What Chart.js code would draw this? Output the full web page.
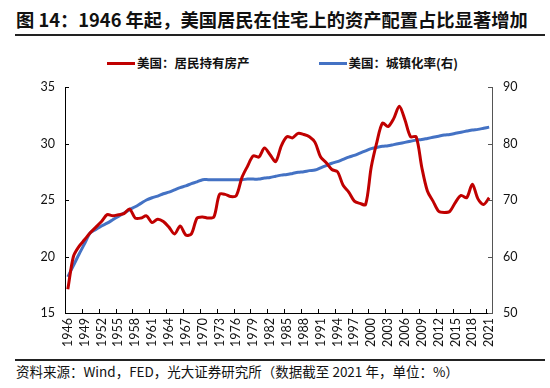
<!DOCTYPE html>
<html>
<head>
<meta charset="utf-8">
<script src="https://cdn.jsdelivr.net/npm/chart.js@4"></script>
<style>
  body { margin: 0; width: 550px; height: 388px; background: #fff; position: relative; overflow: hidden;
         font-family: "Noto Sans CJK SC", "Noto Sans", sans-serif; color: #111; }
  #title { position: absolute; left: 16px; top: 6px; font-size: 18.3px; font-weight: bold; line-height: 26px; white-space: nowrap; }
  .rule { position: absolute; left: 15px; width: 530px; height: 1.5px; background: #222; }
  #legend { position: absolute; left: 107px; top: 53px; display: flex; gap: 69px; font-size: 12.5px; font-weight: bold; line-height: 20px; }
  #legend .item { display: flex; align-items: center; white-space: nowrap; }
  #legend .swatch { width: 28px; height: 3px; margin-right: 2px; }
  #wrap { position: absolute; left: 0; top: 40px; width: 550px; height: 315px; }
  #source { position: absolute; left: 16px; top: 361px; font-size: 13.5px; line-height: 20px; white-space: nowrap; }
</style>
</head>
<body>
<div id="title">图 14：1946 年起，美国居民在住宅上的资产配置占比显著增加</div>
<div class="rule" style="top:34px"></div>
<div id="legend"></div>
<div id="wrap"><canvas id="chart"></canvas></div>
<div class="rule" style="top:359px"></div>
<div id="source">资料来源：Wind，FED，光大证券研究所（数据截至 2021 年，单位：%）</div>
<script>
const years = [];
for (let y = 1946; y <= 2021; y++) years.push(String(y));

// 美国：居民持有房产 (left axis, %)
const housing = [
  17.1, 20.0, 20.9, 21.5, 22.1, 22.6, 23.1, 23.7, 23.6, 23.7,
  23.8, 24.2, 23.4, 23.4, 23.6, 23.0, 23.3, 23.1, 22.6, 22.0,
  22.7, 21.9, 22.0, 23.4, 23.5, 23.4, 23.5, 25.5, 25.5, 25.3,
  25.4, 27.0, 28.0, 28.9, 28.8, 29.6, 29.0, 28.4, 29.8, 30.6,
  30.5, 30.9, 30.8, 30.6, 30.1, 28.8, 28.3, 27.7, 27.5, 26.3,
  25.7, 24.9, 24.7, 24.6, 27.9, 30.1, 31.8, 31.5, 32.2, 33.3,
  32.1, 30.6, 30.6, 27.9, 25.8, 24.9, 24.0, 23.9, 24.0, 24.8,
  25.4, 25.2, 26.4, 25.1, 24.6, 25.2
];

// 美国：城镇化率 (right axis, %)
const urban = [
  56.4, 58.4, 60.4, 62.3, 64.2, 64.8, 65.4, 65.9, 66.5, 67.1,
  67.7, 68.3, 68.8, 69.4, 70.0, 70.4, 70.7, 71.1, 71.4, 71.8,
  72.2, 72.5, 72.9, 73.2, 73.6, 73.6, 73.6, 73.6, 73.6, 73.6,
  73.6, 73.6, 73.7, 73.7, 73.7, 73.9, 74.0, 74.2, 74.4, 74.5,
  74.7, 74.9, 75.0, 75.2, 75.3, 75.7, 76.1, 76.5, 76.8, 77.2,
  77.6, 77.9, 78.3, 78.7, 79.1, 79.3, 79.5, 79.6, 79.8, 80.0,
  80.2, 80.4, 80.6, 80.7, 80.9, 81.1, 81.3, 81.5, 81.6, 81.8,
  82.0, 82.2, 82.4, 82.5, 82.7, 82.9
];

const seriesNames = ['美国：居民持有房产', '美国：城镇化率(右)'];
const seriesColors = ['#C00000', '#4472C4'];

// tick marks pointing into the plot, like the original
const inwardTicks = {
  id: 'inwardTicks',
  afterDraw(chart) {
    const {ctx, scales: {x, y, y1}} = chart;
    const len = 4;
    ctx.save();
    ctx.lineWidth = 1;
    const seg = (a, b, c, d, col) => {
      ctx.strokeStyle = col;
      ctx.beginPath(); ctx.moveTo(a, b); ctx.lineTo(c, d); ctx.stroke();
    };
    const step = x.getPixelForValue(1) - x.getPixelForValue(0);
    years.forEach((yr, i) => {
      if (i % 3) return;
      const px = Math.round(x.getPixelForValue(i) - step / 2) + 0.5;
      seg(px, x.top, px, x.top - len, '#000');
    });
    y.ticks.forEach(t => {
      const py = Math.round(y.getPixelForValue(t.value)) + 0.5;
      seg(y.right, py, y.right + len, py, '#000');
    });
    y1.ticks.forEach(t => {
      const py = Math.round(y1.getPixelForValue(t.value)) + 0.5;
      seg(y1.left, py, y1.left - len, py, '#555');
    });
    ctx.restore();
  }
};

const tickFont = {family: 'Lato, "Noto Sans", sans-serif', size: 12.5};

const chart = new Chart(document.getElementById('chart'), {
  type: 'line',
  data: {
    labels: years,
    datasets: [
      {label: seriesNames[0], data: housing, yAxisID: 'y', borderColor: seriesColors[0],
       backgroundColor: seriesColors[0], borderWidth: 3, pointRadius: 0, tension: 0.3},
      {label: seriesNames[1], data: urban, yAxisID: 'y1', borderColor: seriesColors[1],
       backgroundColor: seriesColors[1], borderWidth: 3, pointRadius: 0, tension: 0.3}
    ]
  },
  options: {
    responsive: true,
    maintainAspectRatio: false,
    animation: false,
    layout: {padding: {top: 47, bottom: 0, left: 0, right: 0}},
    plugins: {legend: {display: false}, tooltip: {enabled: false}},
    scales: {
      x: {
        offset: true,
        grid: {drawOnChartArea: false, drawTicks: false},
        border: {color: '#000', width: 1},
        ticks: {
          autoSkip: false, maxRotation: 90, minRotation: 90, padding: 5,
          color: '#111', font: tickFont,
          callback: (v, i) => (i % 3 === 0 ? years[i] : null)
        },
        afterFit: s => { s.height = 42; }
      },
      y: {
        position: 'left', min: 15, max: 35,
        grid: {drawOnChartArea: false, drawTicks: false},
        border: {color: '#000', width: 1},
        ticks: {stepSize: 5, padding: 10, color: '#111', font: tickFont},
        afterFit: s => { s.width = 65; }
      },
      y1: {
        position: 'right', min: 50, max: 90,
        grid: {drawOnChartArea: false, drawTicks: false},
        border: {color: '#555', width: 1},
        ticks: {stepSize: 10, padding: 11, color: '#111', font: tickFont},
        afterFit: s => { s.width = 58; }
      }
    }
  },
  plugins: [inwardTicks]
});

// html legend built from the datasets
const legend = document.getElementById('legend');
chart.data.datasets.forEach(ds => {
  const item = document.createElement('div');
  item.className = 'item';
  item.innerHTML = `<span class="swatch" style="background:${ds.borderColor}"></span><span>${ds.label}</span>`;
  legend.appendChild(item);
});
</script>
</body>
</html>
